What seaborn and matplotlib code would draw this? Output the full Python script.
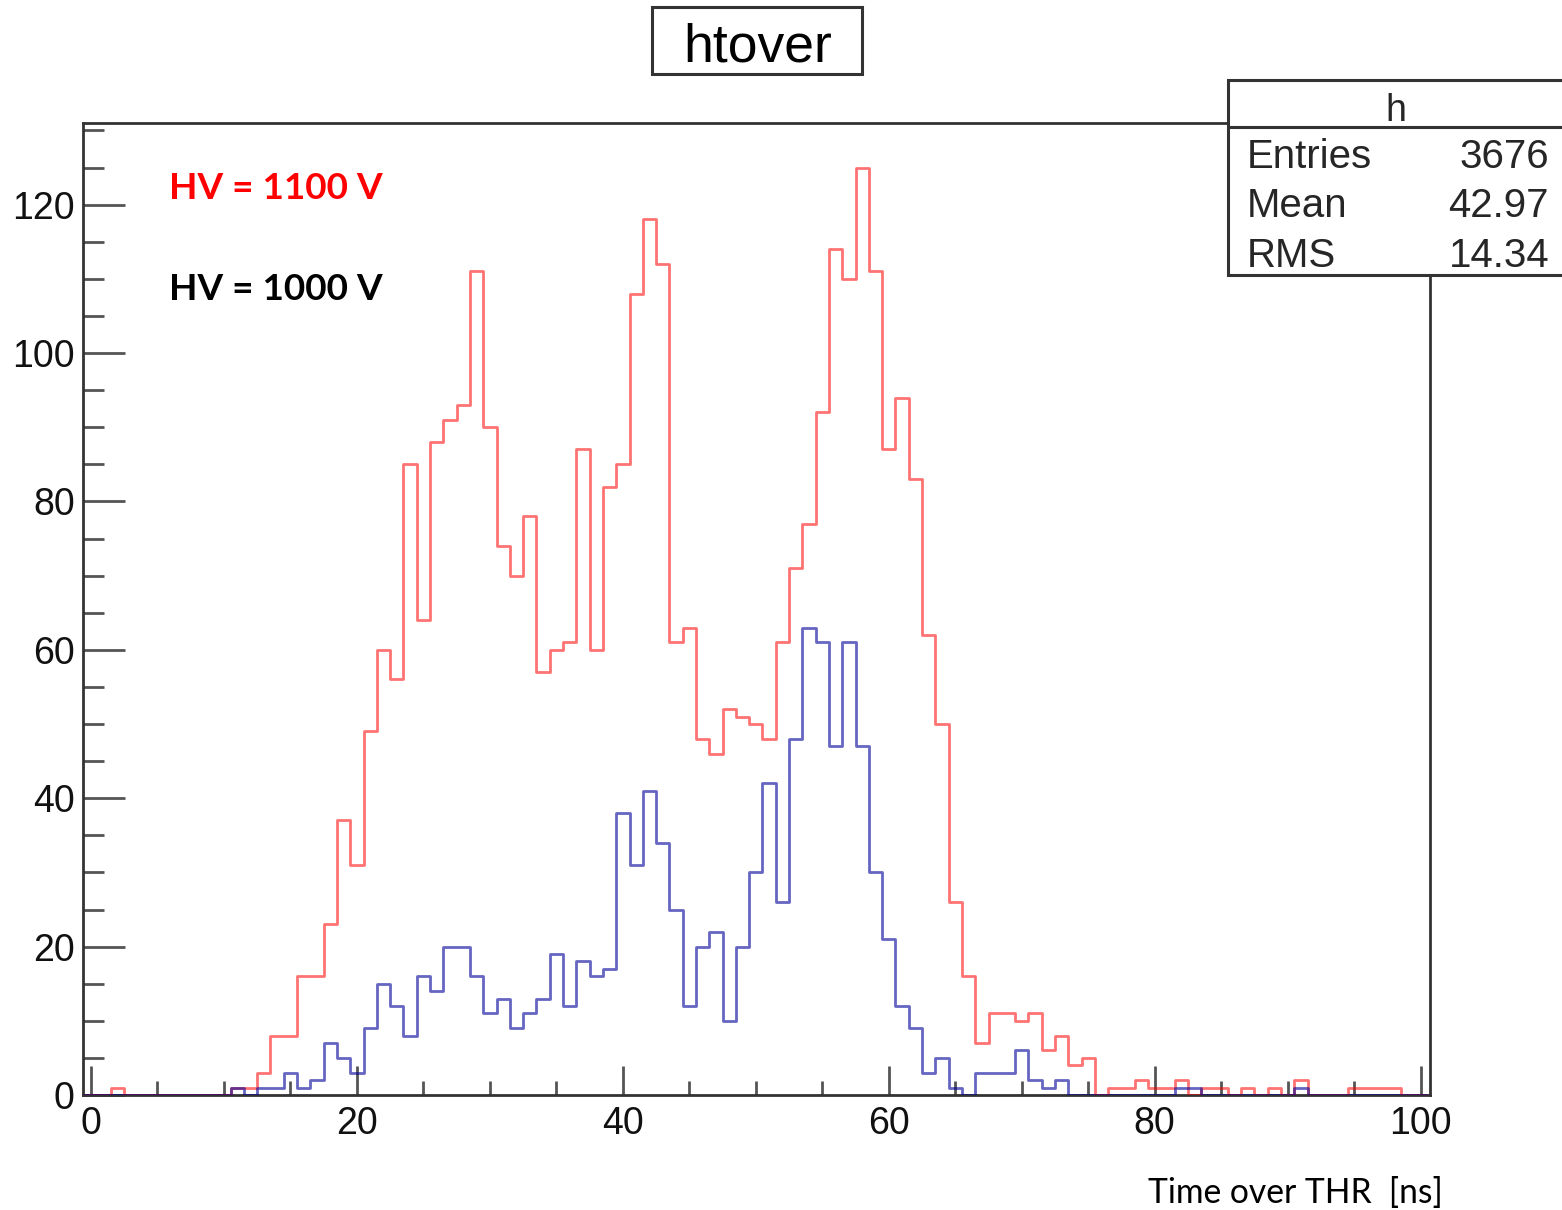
import numpy as np
import pandas as pd
import matplotlib
matplotlib.use("Agg")
import matplotlib.pyplot as plt
import seaborn as sns
from matplotlib.patches import Rectangle
from matplotlib.lines import Line2D
from matplotlib.ticker import MultipleLocator

# ---------------- data ----------------
bin_centers = list(range(0, 101))
counts_1100 = [0, 0, 1, 0, 0, 0, 0, 0, 0, 0,
               0, 1, 1, 3, 8, 8, 16, 16, 23, 37,
               31, 49, 60, 56, 85, 64, 88, 91, 93, 111,
               90, 74, 70, 78, 57, 60, 61, 87, 60, 82,
               85, 108, 118, 112, 61, 63, 48, 46, 52, 51,
               50, 48, 61, 71, 77, 92, 114, 110, 125, 111,
               87, 94, 83, 62, 50, 26, 16, 7, 11, 11,
               10, 11, 6, 8, 4, 5, 0, 1, 1, 2,
               1, 1, 2, 0, 1, 1, 0, 1, 0, 1,
               0, 2, 0, 0, 0, 1, 1, 1, 1, 0,
               0]
counts_1000 = [0, 0, 0, 0, 0, 0, 0, 0, 0, 0,
               0, 1, 0, 1, 1, 3, 1, 2, 7, 5,
               3, 9, 15, 12, 8, 16, 14, 20, 20, 16,
               11, 13, 9, 11, 13, 19, 12, 18, 16, 17,
               38, 31, 41, 34, 25, 12, 20, 22, 10, 20,
               30, 42, 26, 48, 63, 61, 47, 61, 47, 30,
               21, 12, 9, 3, 5, 1, 0, 3, 3, 3,
               6, 2, 1, 2, 0, 0, 0, 0, 0, 0,
               0, 0, 1, 1, 0, 0, 0, 0, 0, 0,
               0, 1, 0, 0, 0, 0, 0, 0, 0, 0,
               0]
title_text = "htover"
stats_name = "h"
stats_labels = ["Entries", "Mean", "RMS"]
stats_values = ["3676", "42.97", "14.34"]
label_1100 = "HV = 1100 V"
label_1000 = "HV = 1000 V"
x_label = "Time over THR  [ns]"
x_ticks = [0, 20, 40, 60, 80, 100]
y_ticks = [0, 20, 40, 60, 80, 100, 120]

# ---------------- style ----------------
sns.set_style("white")
plt.rcParams['font.family'] = ['Liberation Sans', 'DejaVu Sans']

W, H = 1562, 1210
fig = plt.figure(figsize=(W / 100, H / 100), dpi=100)
fx = lambda px: px / W
fy = lambda py: 1 - py / H

ax = fig.add_axes([fx(83), fy(1095), fx(1430) - fx(83), fy(123) - fy(1095)])

df = pd.DataFrame({
    "x": bin_centers + bin_centers,
    "count": counts_1100 + counts_1000,
    "hv": ["1100"] * len(bin_centers) + ["1000"] * len(bin_centers),
})

sns.histplot(data=df[df.hv == "1100"], x="x", weights="count",
             binwidth=1, binrange=(-0.5, 100.5),
             element="step", fill=False, color="#FF0000", alpha=0.55,
             linewidth=2.0, ax=ax, zorder=3)
sns.histplot(data=df[df.hv == "1000"], x="x", weights="count",
             binwidth=1, binrange=(-0.5, 100.5),
             element="step", fill=False, color="#00009A", alpha=0.6,
             linewidth=2.0, ax=ax, zorder=4)

ax.set_xlim(-0.6, 100.7)
ax.set_ylim(0, 131)
ax.set_xlabel("")
ax.set_ylabel("")

ax.set_xticks(x_ticks)
ax.set_yticks(y_ticks)
ax.xaxis.set_minor_locator(MultipleLocator(5))
ax.yaxis.set_minor_locator(MultipleLocator(5))
tick_color = "#555555"
ax.tick_params(axis="x", which="major", direction="in", length=21, width=2,
               color=tick_color, labelsize=27, pad=8, bottom=True,
               labelcolor="#111111")
ax.tick_params(axis="x", which="minor", direction="in", length=10, width=2,
               color=tick_color, bottom=True)
ax.tick_params(axis="y", which="major", direction="in", length=30, width=2,
               color=tick_color, labelsize=27, pad=6, left=True,
               labelcolor="#111111")
ax.tick_params(axis="y", which="minor", direction="in", length=15, width=2,
               color=tick_color, left=True)
for s in ax.spines.values():
    s.set_visible(True)
    s.set_color("#333333")
    s.set_linewidth(2.0)

# title box
fig.add_artist(Rectangle((fx(652), fy(74)), fx(862) - fx(652), fy(7) - fy(74),
                         transform=fig.transFigure, facecolor="white",
                         edgecolor="#333333", linewidth=2.2, zorder=10))
fig.text(fx(758), fy(62), title_text, ha="center", va="baseline",
         fontsize=38.5, color="black", zorder=11)

# stats box
fig.add_artist(Rectangle((fx(1228), fy(275)), 0.3, fy(80) - fy(275),
                         transform=fig.transFigure, facecolor="white",
                         edgecolor="#333333", linewidth=2.2, zorder=10,
                         clip_on=False))
fig.add_artist(Line2D([fx(1228), 1.0], [fy(127), fy(127)],
                      transform=fig.transFigure, color="#333333",
                      linewidth=2.2, zorder=11))
fig.text(fx(1396), fy(121), stats_name, ha="center", va="baseline",
         fontsize=27, zorder=12)
row_baselines = [168, 217, 267]
for lab, val, yb in zip(stats_labels, stats_values, row_baselines):
    fig.text(fx(1247), fy(yb), lab, ha="left", va="baseline", fontsize=29, zorder=12)
    fig.text(fx(1549), fy(yb), val, ha="right", va="baseline", fontsize=29, zorder=12)

# HV labels
fig.text(fx(169), fy(199), label_1100, ha="left", va="baseline", fontsize=26.6,
         fontweight="bold", color="#FF0000", family=["Lato", "DejaVu Sans"])
fig.text(fx(169), fy(300), label_1000, ha="left", va="baseline", fontsize=26.6,
         fontweight="bold", color="black", family=["Lato", "DejaVu Sans"])

# x-axis label
fig.text(fx(1148), fy(1203), x_label, ha="left", va="baseline", fontsize=24.2,
         color="black", family=["Lato", "DejaVu Sans"])

fig.savefig("out.png", dpi=100)
